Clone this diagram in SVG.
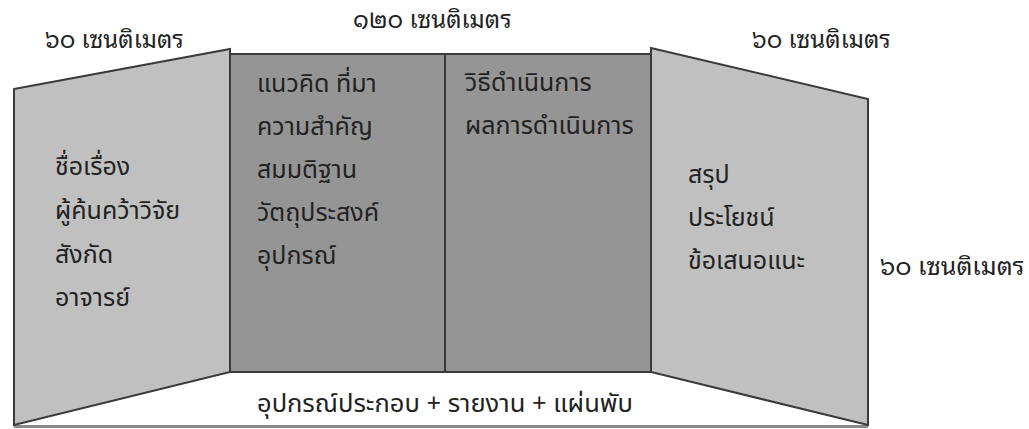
<svg xmlns="http://www.w3.org/2000/svg" width="1029" height="429" viewBox="0 0 1029 429">
<style>
.side{fill:#c0c0c0;stroke:#3a3a3a;stroke-width:2;stroke-linejoin:miter}
.mid{fill:#959595;stroke:#3a3a3a;stroke-width:2}
.t{font-family:'Noto Sans Thai','Noto Sans','DejaVu Sans',sans-serif;font-size:25px;fill:#222}
.lbl{font-family:'Noto Sans Thai Looped','Noto Sans Thai','Noto Sans',sans-serif;font-size:24px;fill:#222}
</style>
<rect width="1029" height="429" fill="#ffffff"/>
<g id="floor">
<line x1="14" y1="426.5" x2="868" y2="426.5" stroke="#8a8a8a" stroke-width="3"/>
<text class="t" x="257" y="412" style="font-size:25.5px">อุปกรณ์ประกอบ + รายงาน + แผ่นพับ</text>
</g>
<g id="left-panel">
<polygon class="side" points="14,89 230,49 230,372 14,425"/>
<text class="t" x="55" y="175">ชื่อเรื่อง</text>
<text class="t" x="55" y="219">ผู้ค้นคว้าวิจัย</text>
<text class="t" x="55" y="263">สังกัด</text>
<text class="t" x="55" y="306">อาจารย์</text>
</g>
<g id="middle-panel">
<rect class="mid" x="230" y="54" width="421" height="318"/>
<line x1="445" y1="54" x2="445" y2="372" stroke="#3a3a3a" stroke-width="2"/>
<text class="t" x="257" y="92">แนวคิด ที่มา</text>
<text class="t" x="257" y="135">ความสำคัญ</text>
<text class="t" x="257" y="178">สมมติฐาน</text>
<text class="t" x="257" y="221">วัตถุประสงค์</text>
<text class="t" x="257" y="264">อุปกรณ์</text>
<text class="t" x="465" y="91">วิธีดำเนินการ</text>
<text class="t" x="465" y="134">ผลการดำเนินการ</text>
</g>
<g id="right-panel">
<polygon class="side" points="651,48 868,99 868,425 651,372"/>
<text class="t" x="688" y="183">สรุป</text>
<text class="t" x="688" y="226">ประโยชน์</text>
<text class="t" x="688" y="269">ข้อเสนอแนะ</text>
</g>
<g id="labels">
<text class="lbl" x="45" y="48">๖๐ เซนติเมตร</text>
<text class="lbl" x="353" y="28">๑๒๐ เซนติเมตร</text>
<text class="lbl" x="752" y="48">๖๐ เซนติเมตร</text>
<text class="lbl" x="880" y="275" style="font-size:25px">๖๐ เซนติเมตร</text>
</g>
</svg>
